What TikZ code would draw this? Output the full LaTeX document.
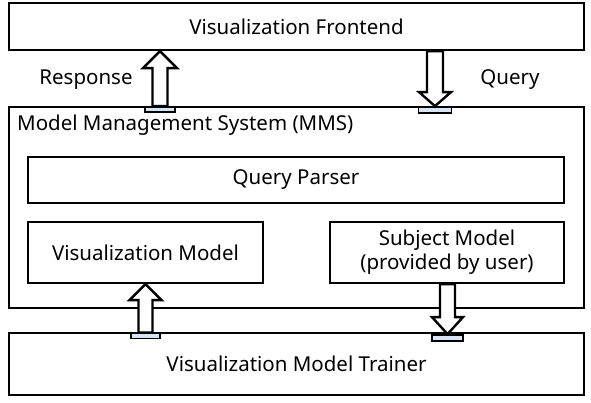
\documentclass[tikz,border=0pt]{standalone}
\usepackage{fontspec}
\setmainfont{Noto Sans}
\usetikzlibrary{calc}
\definecolor{baseblue}{HTML}{D6E4F5}
\tikzset{
  txt/.style={font=\fontsize{20.5}{24}\selectfont},
  box/.style={draw=black, line width=2.2pt, fill=white, inner sep=0pt, txt, align=center},
  lbl/.style={inner sep=0pt, txt},
  fatarrowstyle/.style={draw=black, line width=2.4pt, fill=white, line join=miter},
  basebar/.style={draw=black, line width=1.8pt, fill=baseblue, inner sep=0pt},
}
\newcommand\fatarrow[5]{%
  \coordinate (fa-b) at (#1);
  \coordinate (fa-t) at (#2);
  \coordinate (fa-h) at ($(fa-t)!#5!(fa-b)$);
  \draw[fatarrowstyle] ($(fa-b)!#3!90:(fa-t)$) -- ($(fa-h)!#3!90:(fa-t)$) -- ($(fa-h)!#4!90:(fa-t)$) -- (fa-t) -- ($(fa-h)!#4!-90:(fa-t)$) -- ($(fa-h)!#3!-90:(fa-t)$) -- ($(fa-b)!#3!-90:(fa-t)$) -- cycle;
}
\begin{document}
\begin{tikzpicture}[x=1pt,y=-1pt]
\useasboundingbox (0,0) rectangle (591,403);
% boxes
\node[box, minimum width=575pt, minimum height=47pt] (front) at (296.5,26.5) {Visualization Frontend};
\node[box, minimum width=575pt, minimum height=201pt] (mms) at (296.5,207.5) {};
\node[lbl, anchor=west] (mmslabel) at (17,125) {Model Management System (MMS)};
\node[box, minimum width=536pt, minimum height=46pt] (parser) at (296,180) {Query Parser};
\node[box, minimum width=235pt, minimum height=61pt] (vismodel) at (145.5,252.5) {Visualization Model};
\node[box, minimum width=234pt, minimum height=61pt] (subject) at (447,252.5) {Subject Model\\(provided by user)};
\node[box, minimum width=575pt, minimum height=62pt] (trainer) at (296.5,364) {Visualization Model Trainer};
% labels
\node[lbl] (resplabel) at (86,80) {Response};
\node[lbl] (querylabel) at (510,80) {Query};
% base bars
\node[basebar, minimum width=30pt, minimum height=5pt] (respbar) at (160,109.5) {};
\node[basebar, minimum width=33pt, minimum height=6pt] (querybar) at (435,110) {};
\node[basebar, minimum width=29pt, minimum height=5pt] (trainbar) at (145.5,336) {};
\node[basebar, minimum width=31pt, minimum height=6pt] (subjbar) at (447.5,338) {};
% block arrows
\fatarrow{respbar.north}{respbar |- front.south}{7.5pt}{17pt}{17pt}
\fatarrow{querybar |- front.south}{querybar.north}{8pt}{16pt}{14pt}
\fatarrow{trainbar.north}{trainbar |- vismodel.south}{7pt}{16pt}{16pt}
\fatarrow{subjbar |- subject.south}{subjbar.north}{7.5pt}{15.5pt}{17pt}
% redraw bars on top
\node[basebar, minimum width=30pt, minimum height=5pt] at (respbar) {};
\node[basebar, minimum width=33pt, minimum height=6pt] at (querybar) {};
\node[basebar, minimum width=29pt, minimum height=5pt] at (trainbar) {};
\node[basebar, minimum width=31pt, minimum height=6pt] at (subjbar) {};
\end{tikzpicture}
\end{document}
